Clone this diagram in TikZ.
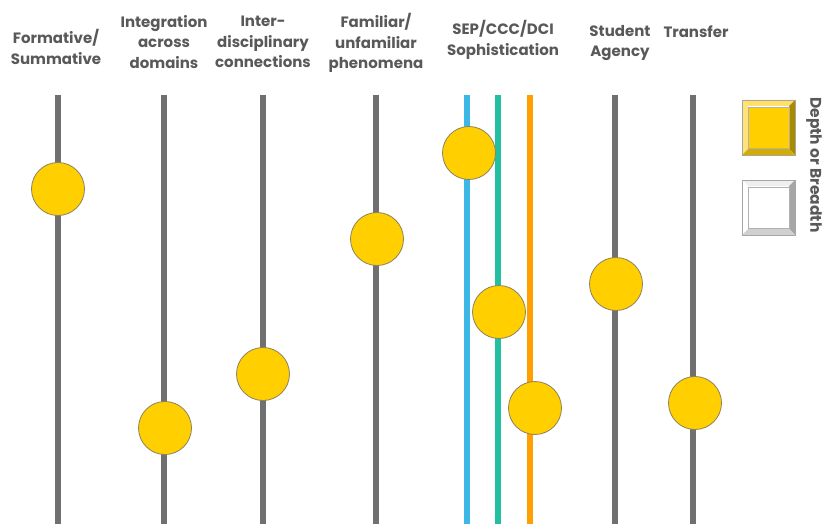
\documentclass[tikz,border=0pt]{standalone}
\usepackage{fontspec}
\setmainfont{Poppins}
\begin{document}
\begin{tikzpicture}[x=1pt,y=-1pt,
  lbl/.style={font=\fontsize{15}{20.5}\selectfont\bfseries, text=lbltxt, align=center, inner sep=0pt},
  axis/.style={line width=6.5pt, draw=axgray},
  dot/.style={circle, minimum size=53pt, inner sep=0pt, fill=dotyellow, draw=dotedge, line width=0.8pt}]
\definecolor{lbltxt}{HTML}{595959}
\definecolor{axgray}{HTML}{707070}
\definecolor{dotyellow}{HTML}{FFCF00}
\definecolor{dotedge}{HTML}{8C8060}
\definecolor{cblue}{HTML}{3DB8E6}
\definecolor{cteal}{HTML}{22BFA0}
\definecolor{corange}{HTML}{FFA000}
\useasboundingbox (0,0) rectangle (824,524);
% axes
\foreach \n/\x in {a/58,b/164,c/263,d/376,h/615,i/693}{
  \coordinate (\n top) at (\x,95);
  \coordinate (\n bot) at (\x,524);
  \draw[axis] (\n top) -- (\n bot);
}
\coordinate (etop) at (467,95); \coordinate (ebot) at (467,524);
\coordinate (ftop) at (498,95); \coordinate (fbot) at (498,524);
\coordinate (gtop) at (530,95); \coordinate (gbot) at (530,524);
\draw[line width=6pt, draw=cblue] (etop) -- (ebot);
\draw[line width=6pt, draw=cteal] (ftop) -- (fbot);
\draw[line width=6pt, draw=corange] (gtop) -- (gbot);
% labels
\node[lbl] (la) at (56,47) {Formative/\\Summative};
\node[lbl] (lb) at (164,42) {Integration\\across\\domains};
\node[lbl] (lc) at (263,42) {Inter-\\disciplinary\\connections};
\node[lbl] (ld) at (376,43) {Familiar/\\unfamiliar\\phenomena};
\node[lbl] (le) at (503,40) {SEP/CCC/DCI\\Sophistication};
\node[lbl] (lh) at (620,43) {Student\\Agency};
\node[lbl] (li) at (696,32) {Transfer};
% dots
\node[dot] (da) at (58,189) {};
\node[dot] (db) at (165,428) {};
\node[dot] (dc) at (263,374) {};
\node[dot] (dd) at (377,239) {};
\node[dot] (de) at (469,153) {};
\node[dot] (df) at (499,312) {};
\node[dot] (dg) at (535,408) {};
\node[dot] (dh) at (616,284) {};
\node[dot] (di) at (695,403) {};
% legend boxes
\definecolor{ytop}{HTML}{FFE066}
\definecolor{yleft}{HTML}{FFE27A}
\definecolor{yright}{HTML}{A88A00}
\definecolor{ybot}{HTML}{D2AC00}
\definecolor{wtop}{HTML}{EFEFEF}
\definecolor{wleft}{HTML}{FFFFFF}
\definecolor{wright}{HTML}{A6A6A6}
\definecolor{wbot}{HTML}{D0D0D0}
\foreach \yy/\ctop/\cleft/\cright/\cbot/\cmid/\nm in {100/ytop/yleft/yright/ybot/dotyellow/ly,180/wtop/wleft/wright/wbot/white/lw}{
  \fill[\ctop] (742,\yy) -- (795,\yy) -- (789,\yy+6) -- (748,\yy+6) -- cycle;
  \fill[\cleft] (742,\yy) -- (748,\yy+6) -- (748,\yy+49) -- (742,\yy+55) -- cycle;
  \fill[\cright] (795,\yy) -- (795,\yy+55) -- (789,\yy+49) -- (789,\yy+6) -- cycle;
  \fill[\cbot] (742,\yy+55) -- (795,\yy+55) -- (789,\yy+49) -- (748,\yy+49) -- cycle;
  \node[fill=\cmid, minimum size=41pt, inner sep=0pt, draw=gray!60, line width=0.4pt] (\nm) at (768.5,\yy+27.5) {};
  \draw[gray!70, line width=0.6pt] (742,\yy) rectangle (795,\yy+55);
}
\node[font=\fontsize{15.5}{18}\selectfont\bfseries, text=lbltxt, rotate=-90, inner sep=0pt] (lt) at (814,165) {Depth or Breadth};
\end{tikzpicture}
\end{document}
